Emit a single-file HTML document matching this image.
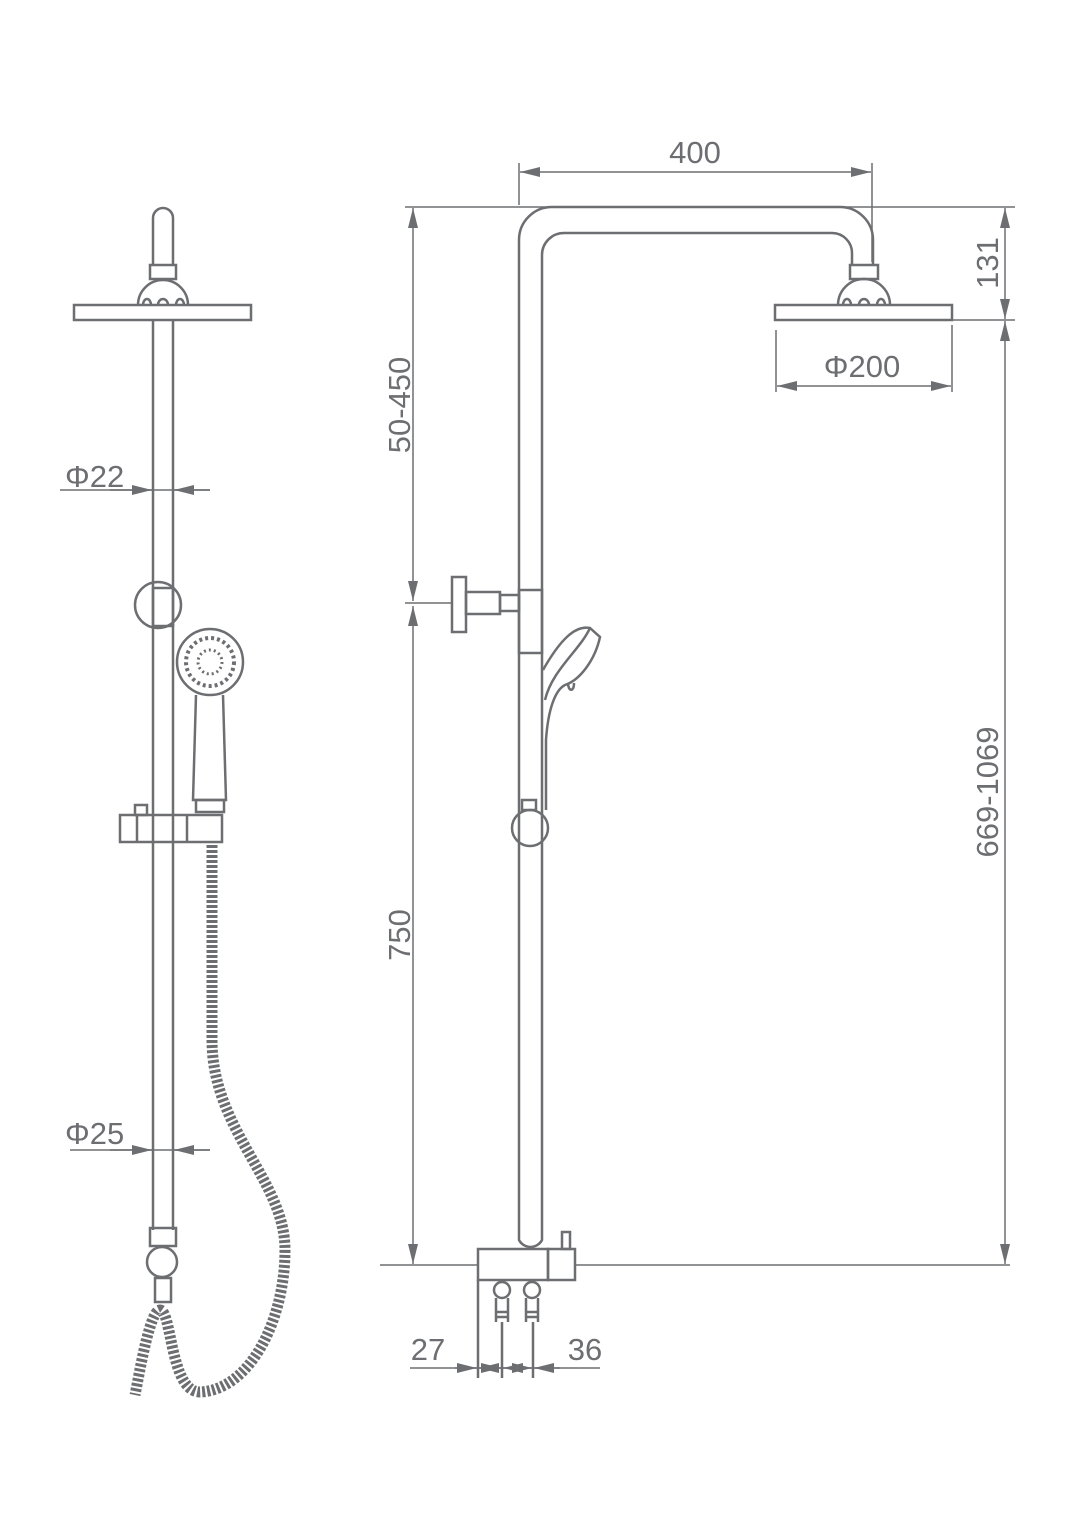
<!DOCTYPE html>
<html><head><meta charset="utf-8"><style>
html,body{margin:0;padding:0;background:#fff}
svg{display:block}
text{font-family:"Liberation Sans",sans-serif;fill:#6d6e71;font-size:31px}
</style></head><body>
<svg width="1065" height="1532" viewBox="0 0 1065 1532" xmlns="http://www.w3.org/2000/svg">
<defs>
<marker id="a" viewBox="0 0 20 10" refX="20" refY="5" markerWidth="20" markerHeight="10" orient="auto-start-reverse" markerUnits="userSpaceOnUse"><path d="M0,0L20,5L0,10z" fill="#6d6e71"/></marker>
</defs>
<g fill="none" stroke="#6d6e71" stroke-width="2.5">
<!-- LEFT VIEW -->
<path d="M153,265V218a10,10 0 0 1 20,0V265"/>
<rect x="150" y="265" width="26" height="14"/>
<path d="M138,305a25,25 0 0 1 50,0"/>
<path d="M143,305a4,6 0 0 1 8,0M158,305a5,6 0 0 1 10,0M176,305a4,6 0 0 1 8,0"/>
<rect x="74" y="305" width="177" height="15"/>
<path d="M153,320V1230M173,320V1230"/>
<circle cx="158" cy="605" r="23"/>
<rect x="153" y="588" width="20" height="38"/>
<circle cx="210" cy="662" r="33"/>
<circle cx="210" cy="662" r="24" stroke-dasharray="3 3" stroke-width="4"/>
<circle cx="210" cy="662" r="12" stroke-dasharray="2 3" stroke-width="3"/>
<path d="M196,695L193,800H226L223,695"/>
<rect x="196" y="800" width="28" height="12"/>
<path d="M120,815H222V842H120Z M137,815V842M187,815V842"/>
<rect x="135" y="805" width="12" height="10"/>
<path d="M212,845V1040C212,1130 285,1180 285,1250C285,1320 250,1390 200,1392C170,1392 172,1310 160,1310C150,1310 140,1370 135,1395" stroke-width="11" stroke-dasharray="3 2"/>
<rect x="150" y="1228" width="26" height="18"/>
<circle cx="162" cy="1262" r="15"/>
<rect x="155" y="1278" width="16" height="24"/>
<!-- LEFT DIMS -->
<g stroke-width="1.5">
<path d="M60,490H210M70,1150H210"/>
<path d="M110,490H152" marker-end="url(#a)"/>
<path d="M210,490H174" marker-end="url(#a)"/>
<path d="M110,1150H152" marker-end="url(#a)"/>
<path d="M210,1150H174" marker-end="url(#a)"/>
</g>

<!-- RIGHT VIEW pipe -->
<path d="M519,1230V240a33,33 0 0 1 33,-33H840a33,33 0 0 1 33,33V265"/>
<path d="M542,1230V255a22,22 0 0 1 22,-22H832a20,20 0 0 1 20,20V265"/>
<rect x="850" y="265" width="28" height="14"/>
<path d="M838,305a26,26 0 0 1 52,0"/>
<path d="M843,305a4,6 0 0 1 8,0M859,305a5,6 0 0 1 10,0M877,305a4,6 0 0 1 8,0"/>
<rect x="775" y="305" width="177" height="15"/>
<!-- bracket -->
<rect x="452" y="577" width="14" height="55"/>
<rect x="466" y="592" width="34" height="22"/>
<rect x="500" y="595" width="19" height="16"/>
<rect x="519" y="590" width="23" height="63"/>
<!-- hand shower right -->
<path d="M543,670C560,640 575,625 590,628L600,637C595,660 580,680 565,685C555,690 548,710 546,740V810"/>
<path d="M545,700C552,670 580,650 590,628"/>
<path d="M568,683c0,8 6,10 6,0"/>
<rect x="522" y="800" width="14" height="10"/>
<circle cx="530" cy="828" r="18"/>
<!-- body -->
<path d="M519,1230V1240a13,13 0 0 0 23,0V1230"/>
<path d="M478,1280V1249H548V1280Z"/>
<rect x="548" y="1249" width="27" height="31"/>
<rect x="562" y="1232" width="8" height="17"/>
<path d="M478,1280V1378"/>
<circle cx="502" cy="1290" r="8"/><circle cx="532" cy="1290" r="8"/>
<path d="M496,1298V1322M508,1298V1322M526,1298V1322M538,1298V1322"/>
<path d="M496,1312H508M496,1317H508M526,1312H538M526,1317H538"/>
<path d="M502,1322V1378M533,1322V1378"/>
<!-- RIGHT DIMS -->
<g stroke-width="1.5">
<path d="M519,163V205M872,163V262"/>
<path d="M520,172H871" marker-start="url(#a)" marker-end="url(#a)"/>
<path d="M405,207H1015M800,320H1015M380,1265H478M575,1265H1010"/>
<path d="M413,208V601" marker-start="url(#a)" marker-end="url(#a)"/>
<path d="M413,606V1264" marker-start="url(#a)" marker-end="url(#a)"/>
<path d="M405,603H452"/>
<path d="M1005,208V319" marker-start="url(#a)" marker-end="url(#a)"/>
<path d="M1005,321V1264" marker-start="url(#a)" marker-end="url(#a)"/>
<path d="M776,330V392M952,325V392"/>
<path d="M777,386H951" marker-start="url(#a)" marker-end="url(#a)"/>
<path d="M410,1368H600"/>
<path d="M455,1368H477" marker-end="url(#a)"/>
<path d="M490,1368H479" marker-end="url(#a)"/>
<path d="M490,1368H501" marker-end="url(#a)"/>
<path d="M520,1368H503" marker-end="url(#a)"/>
<path d="M520,1368H532" marker-end="url(#a)"/>
<path d="M560,1368H534" marker-end="url(#a)"/>
</g>
</g>
<text x="65" y="487">Φ22</text>
<text x="65" y="1144">Φ25</text>
<text x="695" y="163" text-anchor="middle">400</text>
<text x="862" y="377" text-anchor="middle">Φ200</text>
<text x="428" y="1360" text-anchor="middle">27</text>
<text x="585" y="1360" text-anchor="middle">36</text>
<text transform="translate(410,405) rotate(-90)" text-anchor="middle">50-450</text>
<text transform="translate(410,935) rotate(-90)" text-anchor="middle">750</text>
<text transform="translate(998,263) rotate(-90)" text-anchor="middle">131</text>
<text transform="translate(998,792) rotate(-90)" text-anchor="middle">669-1069</text>
</svg>
</body></html>
